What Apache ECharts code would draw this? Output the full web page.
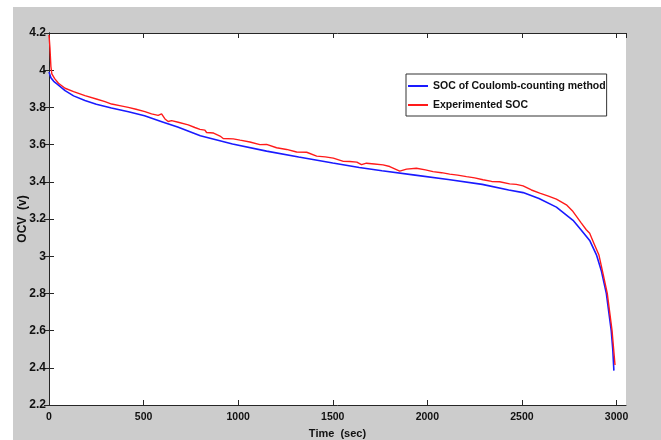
<!DOCTYPE html>
<html>
<head>
<meta charset="utf-8">
<script src="https://cdn.jsdelivr.net/npm/echarts@6.0.0/dist/echarts.min.js"></script>
<style>
    html, body { margin: 0; padding: 0; background: #fff; }
    #OcvChart { width: 661px; height: 440px; }
</style>
</head>
<body>
<div id="OcvChart"></div>
<script>

// SOC of Coulomb-counting method
var timeCoulomb = [0, 10, 25, 50, 85, 130, 190, 250, 330, 420, 505, 600, 680, 800, 970, 1150, 1320, 1500, 1640, 1760,
    1935, 2110, 2290, 2430, 2506, 2590, 2682, 2770, 2814, 2858, 2895, 2920, 2946, 2972, 2980, 2986];
var socCoulomb = [3.99, 3.96, 3.94, 3.92, 3.89, 3.862, 3.837, 3.817, 3.797, 3.777, 3.755, 3.722, 3.694, 3.648, 3.603, 3.565, 3.533, 3.501, 3.477, 3.459,
    3.436, 3.412, 3.386, 3.356, 3.342, 3.31, 3.264, 3.193, 3.14, 3.085, 3.004, 2.92, 2.80, 2.60, 2.50, 2.385];

// Experimented SOC
var timeExp = [0, 5, 10, 15, 30, 50, 85, 130, 190, 250, 296, 331, 380, 419, 460, 507, 542, 577, 595, 613,
    630, 648, 683, 736, 771, 798, 824, 833, 870, 904, 921, 974, 1010, 1062, 1115, 1150, 1203, 1256, 1309, 1362,
    1415, 1460, 1503, 1556, 1590, 1627, 1652, 1678, 1720, 1766, 1801, 1854, 1890, 1942, 1990, 2030, 2075, 2118, 2160, 2207,
    2250, 2294, 2340, 2382, 2435, 2470, 2506, 2550, 2594, 2640, 2682, 2735, 2770, 2814, 2840, 2858, 2880, 2907, 2930, 2951,
    2976, 2992];
var socExp = [4.19, 4.12, 4.02, 3.98, 3.955, 3.93, 3.903, 3.885, 3.863, 3.845, 3.831, 3.818, 3.808, 3.80, 3.79, 3.777, 3.765, 3.757, 3.765, 3.738,
    3.724, 3.729, 3.72, 3.706, 3.692, 3.682, 3.678, 3.665, 3.662, 3.646, 3.633, 3.631, 3.624, 3.614, 3.6, 3.601, 3.583, 3.574, 3.56, 3.559,
    3.538, 3.534, 3.527, 3.51, 3.509, 3.506, 3.492, 3.5, 3.496, 3.491, 3.482, 3.457, 3.468, 3.473, 3.464, 3.455, 3.449, 3.441, 3.436, 3.428,
    3.421, 3.411, 3.402, 3.40, 3.389, 3.386, 3.378, 3.356, 3.339, 3.323, 3.307, 3.276, 3.24, 3.178, 3.142, 3.123, 3.07, 3.006, 2.90, 2.80,
    2.603, 2.415];

var legendNames = ['SOC of Coulomb-counting method', 'Experimented SOC'];
var axisNames = { x: 'Time  (sec)', y: 'OCV  (v)' };

var font = '"Liberation Sans", Arial, sans-serif';

function Pairs(xs, ys) {
    var out = [];
    for (var i = 0; i < xs.length; i++) {
        out.push([xs[i], ys[i]]);
    }
    return out;
}

function FrameAxis(extra) {
    var axis = {
        type: 'value',
        splitLine: { show: false },
        axisLine: { show: true, lineStyle: { color: '#262626', width: 1 } },
        axisTick: { show: true, inside: true, length: 5, lineStyle: { color: '#262626' } },
        axisLabel: { show: false }
    };
    for (var k in extra) axis[k] = extra[k];
    return axis;
}

var chart = echarts.init(document.getElementById('OcvChart'), null, { renderer: 'canvas' });

var option = {
    backgroundColor: '#cccccc',
    animation: false,
    textStyle: { fontFamily: font },
    graphic: [
        // white margin left and top, like the cropped figure
        { type: 'rect', left: 0, top: 0, shape: { width: 661, height: 7 }, style: { fill: '#fff' }, silent: true },
        { type: 'rect', left: 0, top: 0, shape: { width: 13, height: 440 }, style: { fill: '#fff' }, silent: true }
    ],
    grid: {
        left: 49,
        right: 35,
        top: 33,
        bottom: 35,
        containLabel: false,
        outerBoundsMode: 'none',
        show: true,
        backgroundColor: '#fff',
        borderWidth: 0
    },
    legend: {
        data: legendNames,
        orient: 'vertical',
        left: 406,
        top: 74,
        icon: 'rect',
        itemWidth: 20,
        itemHeight: 2,
        itemGap: 5,
        itemTextGap: 4,
        padding: [5, 1, 4, 2],
        backgroundColor: '#fff',
        borderColor: '#333',
        borderWidth: 1,
        borderRadius: 0,
        textStyle: { fontFamily: font, fontWeight: 'bold', fontSize: 10.5, color: '#111', lineHeight: 14 }
    },
    xAxis: [
        FrameAxis({
            position: 'bottom',
            min: 0,
            max: 3050,
            interval: 500,
            name: axisNames.x,
            nameLocation: 'middle',
            nameGap: 23,
            nameMoveOverlap: false,
            nameTextStyle: { fontFamily: font, fontWeight: 'bold', fontSize: 11, color: '#111' },
            axisLabel: {
                show: true,
                margin: 7,
                color: '#111',
                fontWeight: 'bold',
                fontSize: 10.5,
                fontFamily: font,
                showMaxLabel: false,
                formatter: function (v) { return v % 500 === 0 ? String(v) : ''; }
            }
        }),
        FrameAxis({ position: 'top', min: 0, max: 3050, interval: 500 })
    ],
    yAxis: [
        FrameAxis({
            position: 'left',
            min: 2.2,
            max: 4.2,
            interval: 0.2,
            name: axisNames.y,
            nameLocation: 'middle',
            nameGap: 20,
            nameMoveOverlap: false,
            nameRotate: 90,
            nameTextStyle: { fontFamily: font, fontWeight: 'bold', fontSize: 12, color: '#111' },
            axisLabel: {
                show: true,
                margin: 3,
                color: '#111',
                fontWeight: 'bold',
                fontSize: 12,
                fontFamily: font,
                formatter: function (v) { return String(+v.toFixed(1)); }
            }
        }),
        FrameAxis({ position: 'right', min: 2.2, max: 4.2, interval: 0.2 })
    ],
    series: [{
        name: legendNames[0],
        type: 'line',
        xAxisIndex: 0,
        yAxisIndex: 0,
        showSymbol: false,
        smooth: false,
        lineStyle: { color: '#1a1aff', width: 1.6 },
        itemStyle: { color: '#1a1aff' },
        data: Pairs(timeCoulomb, socCoulomb)
    }, {
        name: legendNames[1],
        type: 'line',
        xAxisIndex: 0,
        yAxisIndex: 0,
        showSymbol: false,
        smooth: false,
        lineStyle: { color: '#ff1a1a', width: 1.4 },
        itemStyle: { color: '#ff1a1a' },
        data: Pairs(timeExp, socExp)
    }]
};

chart.setOption(option);

</script>
</body>
</html>
